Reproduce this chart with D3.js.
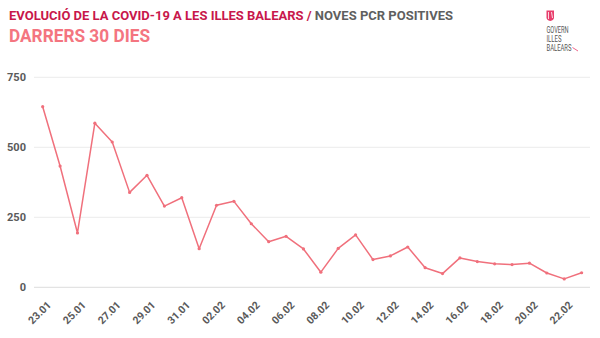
<!DOCTYPE html>
<html><head><meta charset="utf-8">
<script src="https://cdn.jsdelivr.net/npm/d3@7"></script>
<style>
body{margin:0;background:#fff;}
svg{display:block;font-family:Roboto, "Noto Sans", sans-serif;}
</style></head>
<body><svg id="c" width="600" height="338"></svg>
<script>
const dates = ["23.01","24.01","25.01","26.01","27.01","28.01","29.01","30.01","31.01","01.02",
"02.02","03.02","04.02","05.02","06.02","07.02","08.02","09.02","10.02","11.02",
"12.02","13.02","14.02","15.02","16.02","17.02","18.02","19.02","20.02","21.02","22.02","23.02"];
const values = [645,433,194,586,519,339,400,290,320,138,293,307,227,163,182,137,54,139,187,99,112,144,70,49,105,92,84,81,86,51,30,52];
const yTicks = [0,250,500,750];
const xLabels = dates.filter((d,i)=>i%2===0 && i<31);

const svg = d3.select("#c");
const x = d3.scalePoint().domain(dates).range([42.7,581.6]);
const y = d3.scaleLinear().domain([0,750]).range([287.3,77.3]);

// gridlines
svg.append("g").selectAll("line").data(yTicks).join("line")
  .attr("x1",34).attr("x2",590).attr("y1",d=>y(d)).attr("y2",d=>y(d))
  .attr("stroke",d=>d===0?"#dcdcdc":"#ececec").attr("stroke-width",1);

// y axis labels
const ya = svg.append("g").attr("transform","translate(26,0)")
  .call(d3.axisLeft(y).tickValues(yTicks).tickSize(0).tickPadding(0));
ya.select(".domain").remove();
ya.selectAll("text").attr("font-size",11).attr("font-weight",700).attr("fill","#5a5a5a")
  .attr("font-family","Roboto, sans-serif");

// x axis labels
const xa = svg.append("g").attr("transform","translate(0,299)")
  .call(d3.axisBottom(x).tickValues(xLabels).tickSize(0).tickPadding(0));
xa.select(".domain").remove();
xa.selectAll("text")
  .attr("font-size",10.5).attr("font-weight",700).attr("fill","#5a5a5a")
  .attr("font-family","Roboto, sans-serif")
  .attr("text-anchor","end").attr("dy","0.35em")
  .attr("transform","translate(6,4) rotate(-45)");

// line
svg.append("path").datum(values)
  .attr("fill","none").attr("stroke","#f0707c").attr("stroke-width",1.5)
  .attr("stroke-linejoin","round")
  .attr("d",d3.line().x((d,i)=>x(dates[i])).y(d=>y(d)));
svg.append("g").selectAll("circle").data(values).join("circle")
  .attr("cx",(d,i)=>x(dates[i])).attr("cy",d=>y(d)).attr("r",1.6).attr("fill","#f0707c");

// titles
const t = svg.append("text").attr("x",9).attr("y",20)
  .attr("font-size",13.5).attr("font-weight",700).attr("font-family","Roboto, sans-serif")
  .attr("textLength",444).attr("lengthAdjust","spacingAndGlyphs");
t.append("tspan").attr("fill","#c8174b").text("EVOLUCIÓ DE LA COVID-19 A LES ILLES BALEARS / ");
t.append("tspan").attr("fill","#5f5f5f").text("NOVES PCR POSITIVES");
svg.append("text").attr("x",9).attr("y",41.7).attr("font-size",17.5).attr("font-weight",700)
  .attr("font-family","Roboto, sans-serif").attr("fill","#f47580")
  .attr("textLength",141).attr("lengthAdjust","spacingAndGlyphs").text("DARRERS 30 DIES");

// logo
const lg = svg.append("g");
lg.append("path").attr("d","M546.5,10.5 h7.5 v7 q0,2.5 -3.75,3.5 q-3.75,-1 -3.75,-3.5 z").attr("fill","#e83e6c");
lg.append("path").attr("d","M548.5,12 v7 M551.5,12 l1,6").attr("stroke","#fff").attr("stroke-width",0.8);
[["GOVERN",33,22],["ILLES",42,15],["BALEARS",51,25]].forEach(([s,yy,w])=>{
  lg.append("text").attr("x",546.5).attr("y",yy).attr("font-size",8.5)
    .attr("font-family","Roboto, sans-serif").attr("fill","#555")
    .attr("textLength",w).attr("lengthAdjust","spacingAndGlyphs").text(s);
});
lg.append("line").attr("x1",572.5).attr("y1",47.5).attr("x2",578).attr("y2",51)
  .attr("stroke","#e83e6c").attr("stroke-width",0.8);
</script></body></html>
